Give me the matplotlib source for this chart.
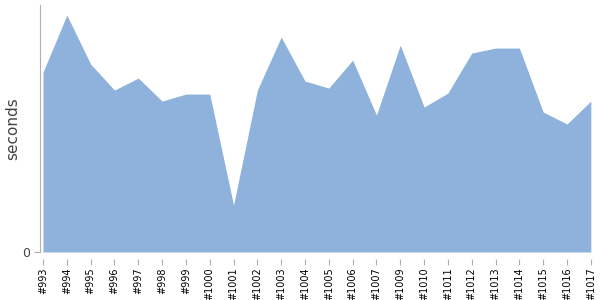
import matplotlib
matplotlib.use("Agg")
import matplotlib.pyplot as plt
import numpy as np

# build durations
builds = ["#993", "#994", "#995", "#996", "#997", "#998", "#999", "#1000",
          "#1001", "#1002", "#1003", "#1004", "#1005", "#1006", "#1007",
          "#1009", "#1010", "#1011", "#1012", "#1013", "#1014", "#1015",
          "#1016", "#1017"]
seconds = [180, 237, 188, 162, 174, 151, 158, 158, 47, 162, 215, 171, 164,
           192, 137, 207, 145, 159, 199, 204, 204, 140, 128, 151]

x = np.arange(len(builds))

fig = plt.figure(figsize=(6, 3), dpi=100)
ax = fig.add_axes([0.0667, 0.16, 0.918, 0.823])

# spine position first, it resets the tick setup
for side in ["top", "right"]:
    ax.spines[side].set_visible(False)
ax.spines["bottom"].set_position(("outward", 5))
ax.spines["bottom"].set_visible(False)
ax.spines["left"].set_color("#b0b0b0")

ax.fill_between(x, 0, seconds, color="#8eb2db", linewidth=0)

ax.set_xlim(-0.126, len(builds) - 1)
ax.set_ylim(0, 247)

ax.set_xticks(x)
ax.set_xticklabels(builds, rotation=90, fontsize=7, color="black")
ax.set_yticks([0])
ax.set_yticklabels(["0"], fontsize=9, color="#444444")
ax.set_ylabel("seconds", fontsize=11, color="#444444")
ax.yaxis.set_label_coords(-0.036, 0.5)

ax.tick_params(axis="x", length=4, color="#b0b0b0", pad=2)
ax.tick_params(axis="y", length=4, color="#b0b0b0", pad=3)

fig.savefig("out.png", dpi=100)
